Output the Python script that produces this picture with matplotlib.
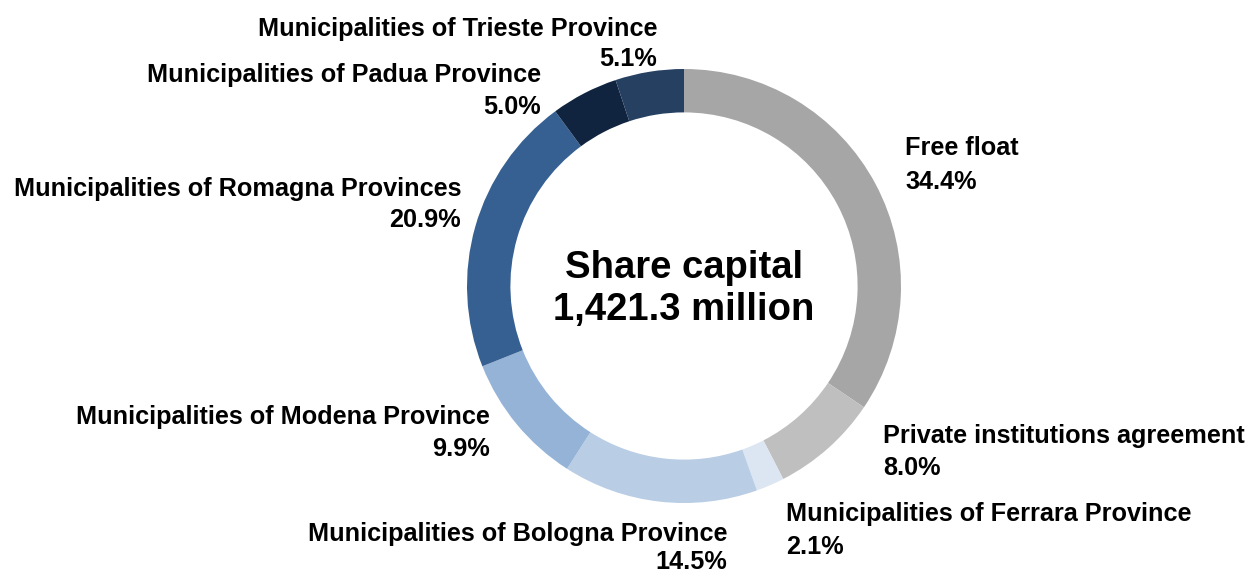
import matplotlib
matplotlib.use("Agg")
import matplotlib.pyplot as plt

# Shareholder structure (share of capital, %)
holders = [
    "Free float",
    "Private institutions agreement",
    "Municipalities of Ferrara Province",
    "Municipalities of Bologna Province",
    "Municipalities of Modena Province",
    "Municipalities of Romagna Provinces",
    "Municipalities of Padua Province",
    "Municipalities of Trieste Province",
]
shares = [34.4, 8.0, 2.1, 14.5, 9.9, 20.9, 5.0, 5.1]
colors = ["#A6A6A6", "#BFBFBF", "#DCE6F2", "#B9CDE5",
          "#95B3D7", "#376092", "#10243F", "#254061"]
center_title = "Share capital\n1,421.3 million"

W, H = 1249, 573
CX, CY, R = 684, 286, 217  # donut centre and radius in pixels

plt.rcParams["font.family"] = ["Liberation Sans", "DejaVu Sans"]
fig = plt.figure(figsize=(W / 100, H / 100), dpi=100)
ax = fig.add_axes([0, 0, 1, 1])

ax.pie(shares, colors=colors, startangle=90, counterclock=False,
       radius=1.0, wedgeprops=dict(width=0.2, linewidth=0))

# pie() resets limits/aspect, so fix the pixel-exact frame afterwards
ax.set_aspect("auto")
ax.set_xlim(-CX / R, (W - CX) / R)
ax.set_ylim(-(H - CY) / R, CY / R)
ax.axis("off")


def px(x, y):
    """Pixel position (from top-left) to data coordinates."""
    return (x - CX) / R, (CY - y) / R


ax.text(0, px(0, 289)[1], center_title, ha="center", va="center",
        fontsize=27.5, fontweight="bold", linespacing=1.24)

# label anchors: (x, baseline of name line, baseline of value line, alignment)
anchors = [
    (905, 155, 189, "left"),
    (883, 443, 475, "left"),
    (786, 521, 554, "left"),
    (727, 541, 569, "right"),
    (490, 424, 456, "right"),
    (461, 196, 227, "right"),
    (541, 82, 114, "right"),
    (657, 36, 66, "right"),
]
for name, val, (x, y1, y2, ha) in zip(holders, shares, anchors):
    for txt, y in ((name, y1), (f"{val:.1f}%", y2)):
        tx, ty = px(x, y)
        ax.text(tx, ty, txt, ha=ha, va="baseline",
                fontsize=18.2, fontweight="bold")

fig.savefig("out.png", dpi=100)
